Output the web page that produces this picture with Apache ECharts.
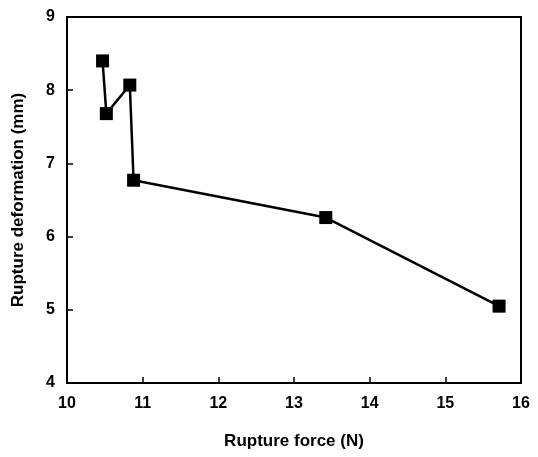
<!DOCTYPE html>
<html>
<head>
<meta charset="utf-8">
<script src="https://cdn.jsdelivr.net/npm/echarts@6/dist/echarts.min.js"></script>
<style>
  html, body { margin: 0; padding: 0; background: #fff; }
  #chart { width: 538px; height: 457px; }
</style>
</head>
<body>
<div id="chart"></div>
<script>
// rupture force (N) vs rupture deformation (mm)
var force = [10.47, 10.52, 10.83, 10.88, 13.42, 15.71];
var deformation = [8.40, 7.68, 8.07, 6.77, 6.26, 5.05];
var xTicks = [10, 11, 12, 13, 14, 15, 16];
var yTicks = [4, 5, 6, 7, 8, 9];

var points = [];
for (var i = 0; i < force.length; i++) {
    points.push([force[i], deformation[i]]);
}

var chart = echarts.init(document.getElementById('chart'));

var tickFont = {
    color: '#000',
    fontFamily: 'Liberation Sans',
    fontWeight: 'bold',
    fontSize: 16
};
var nameFont = {
    color: '#000',
    fontFamily: 'Liberation Sans',
    fontWeight: 'bold',
    fontSize: 17
};

var option = {
    animation: false,
    grid: {
        left: 67,
        right: 17,
        top: 17,
        bottom: 74,
        show: true,
        borderColor: '#000',
        borderWidth: 2
    },
    xAxis: {
        type: 'value',
        min: xTicks[0],
        max: xTicks[xTicks.length - 1],
        interval: 1,
        name: 'Rupture force (N)',
        nameLocation: 'middle',
        nameGap: 50,
        nameTextStyle: nameFont,
        axisLine: { lineStyle: { color: '#000', width: 2 } },
        axisTick: { inside: true, length: 6, lineStyle: { color: '#000', width: 1.5 } },
        axisLabel: Object.assign({ margin: 13 }, tickFont),
        splitLine: { show: false }
    },
    yAxis: {
        type: 'value',
        min: yTicks[0],
        max: yTicks[yTicks.length - 1],
        interval: 1,
        name: 'Rupture deformation (mm)',
        nameLocation: 'middle',
        nameGap: 40,
        nameTextStyle: nameFont,
        axisLine: { lineStyle: { color: '#000', width: 2 } },
        axisTick: { inside: true, length: 6, lineStyle: { color: '#000', width: 1.5 } },
        axisLabel: Object.assign({ margin: 12 }, tickFont),
        splitLine: { show: false }
    },
    series: [
        {
            type: 'line',
            data: points,
            symbol: 'rect',
            symbolSize: 13,
            itemStyle: { color: '#000' },
            lineStyle: { color: '#000', width: 2.5 }
        }
    ]
};

chart.setOption(option);
</script>
</body>
</html>
